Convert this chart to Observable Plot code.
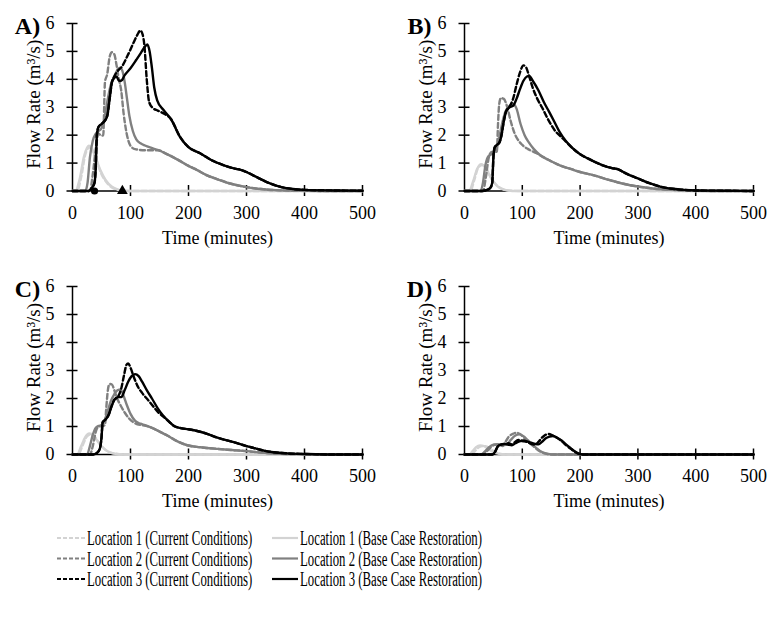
<!DOCTYPE html>
<html><head><meta charset="utf-8">
<script src="https://cdn.jsdelivr.net/npm/d3@7"></script>
<script src="https://cdn.jsdelivr.net/npm/@observablehq/plot@0.6"></script>
<style>
body{margin:0;background:#fff;}
#wrap{position:relative;width:768px;height:619px;overflow:hidden;background:#fff;font-family:"Liberation Serif","Times New Roman",serif;}
.panel{position:absolute;}
.panel text{font-family:"Liberation Serif","Times New Roman",serif;}
.leg{position:absolute;font-family:"Liberation Serif","Times New Roman",serif;font-size:20px;line-height:22px;white-space:nowrap;transform:scaleX(0.64);transform-origin:left center;color:#000;}
</style></head><body><div id="wrap"></div>
<script>
// ---- tick labels / categories ----
const xTicks = [0, 100, 200, 300, 400, 500];
const yTicks = [0, 1, 2, 3, 4, 5, 6];
const panelLabels = ["A)", "B)", "C)", "D)"];
const xTitle = "Time (minutes)";
const yTitle = "Flow Rate (m³/s)";
const seriesNames = [
  "Location 1 (Current Conditions)", "Location 1 (Base Case Restoration)",
  "Location 2 (Current Conditions)", "Location 2 (Base Case Restoration)",
  "Location 3 (Current Conditions)", "Location 3 (Base Case Restoration)"
];
// markers on panel A time axis (minutes)
const markerCircleT = [38];
const markerTriangleT = [86];

// ---- Panel A: [time (min), flow (m3/s)] ----
const A_L1_cur = [[0,0],[8,0],[15,0.5],[22,1.3],[29,1.56],[35,1.45],[42,1.05],[50,0.6],[60,0.28],[70,0.1],[85,0.02],[100,0],[500,0]];
const A_L1_base = [[0,0],[5,0],[12,0.4],[20,1.25],[28,1.62],[34,1.5],[40,1.2],[48,0.75],[57,0.4],[68,0.15],[80,0.04],[95,0],[500,0]];
const A_L2_cur = [[0,0],[30,0],[35,0.6],[40,1.5],[45,2.05],[50,1.98],[53,2.0],[56,3.9],[60,4.2],[64,4.8],[68,4.97],[72,4.9],[76,4.5],[80,4.0],[84,3.6],[88,2.8],[93,2.1],[100,1.62],[108,1.5],[125,1.46],[148,1.46],[160,1.35],[170,1.25],[185,1.08],[200,0.9],[215,0.75],[230,0.58],[250,0.42],[275,0.25],[300,0.14],[325,0.07],[350,0.03],[400,0.01],[450,0],[500,0]];
const A_L2_base = [[0,0],[22,0],[26,0.3],[30,1.2],[35,1.8],[40,2.05],[45,2.15],[50,2.25],[55,2.6],[60,3.2],[66,3.8],[72,4.1],[78,4.35],[82,4.42],[86,4.3],[90,3.9],[94,3.3],[98,2.7],[104,2.15],[110,1.85],[118,1.7],[125,1.63],[135,1.55],[148,1.46],[160,1.35],[170,1.25],[185,1.08],[200,0.9],[215,0.75],[230,0.58],[250,0.42],[275,0.25],[300,0.14],[325,0.07],[350,0.03],[400,0.01],[450,0],[500,0]];
const A_L3_cur = [[0,0],[28,0],[33,0.1],[38,0.3],[40,0.8],[42,2.0],[45,2.3],[50,2.4],[55,2.5],[60,2.7],[64,3.3],[68,3.9],[72,4.1],[78,4.3],[85,4.45],[95,4.85],[105,5.3],[112,5.6],[117,5.75],[121,5.6],[124,5.2],[128,4.0],[132,3.2],[138,2.98],[147,2.88],[157,2.78],[170,2.57],[185,1.95],[200,1.57],[220,1.35],[240,1.1],[260,0.93],[280,0.8],[290,0.76],[300,0.68],[320,0.47],[335,0.32],[360,0.14],[380,0.07],[400,0.04],[450,0.02],[500,0.01]];
const A_L3_base = [[0,0],[28,0],[33,0.1],[38,0.3],[40,0.8],[42,2.0],[45,2.3],[50,2.4],[55,2.5],[60,2.7],[64,3.3],[68,3.9],[72,4.05],[76,4.1],[80,3.95],[84,3.95],[90,4.15],[100,4.4],[110,4.7],[118,4.95],[124,5.15],[129,5.25],[133,5.0],[137,4.4],[141,3.7],[146,3.25],[157,2.9],[170,2.57],[185,1.95],[200,1.57],[220,1.35],[240,1.1],[260,0.93],[280,0.8],[290,0.76],[300,0.68],[320,0.47],[335,0.32],[360,0.14],[380,0.07],[400,0.04],[450,0.02],[500,0.01]];

// ---- Panel B ----
const B_L1_cur = [[0,0],[10,0],[17,0.4],[24,0.85],[31,0.93],[38,0.8],[45,0.5],[55,0.22],[65,0.08],[80,0.01],[95,0],[500,0]];
const B_L1_base = [[0,0],[8,0],[15,0.35],[22,0.8],[29,0.96],[36,0.85],[43,0.58],[52,0.28],[62,0.1],[75,0.02],[90,0],[500,0]];
const B_L2_cur = [[0,0],[32,0],[37,0.5],[42,1.2],[47,1.4],[52,1.38],[56,1.42],[58,2.4],[60,3.1],[63,3.33],[68,3.3],[74,3.0],[80,2.5],[86,2.1],[92,1.85],[100,1.65],[110,1.5],[125,1.35],[131,1.28],[145,1.12],[166,0.91],[185,0.78],[200,0.68],[224,0.56],[253,0.38],[275,0.26],[300,0.16],[325,0.09],[350,0.05],[400,0.01],[450,0],[500,0]];
const B_L2_base = [[0,0],[27,0],[32,0.3],[36,0.9],[40,1.2],[45,1.3],[50,1.35],[55,1.5],[60,1.9],[66,2.5],[72,2.9],[78,3.05],[84,3.12],[90,2.95],[97,2.4],[104,2.0],[111,1.75],[120,1.5],[131,1.28],[145,1.12],[166,0.91],[185,0.78],[200,0.68],[224,0.56],[253,0.38],[275,0.26],[300,0.16],[325,0.09],[350,0.05],[400,0.01],[450,0],[500,0]];
const B_L3_cur = [[0,0],[30,0],[40,0.05],[45,0.12],[48,0.3],[50,1.2],[52,1.55],[56,1.65],[60,1.72],[64,2.0],[68,2.5],[72,2.85],[78,3.02],[84,3.3],[90,3.8],[96,4.25],[102,4.5],[106,4.45],[112,4.1],[118,3.7],[126,3.3],[134,3.0],[145,2.55],[157,2.15],[165,1.98],[175,1.78],[186,1.55],[200,1.32],[215,1.15],[238,0.93],[255,0.82],[265,0.78],[280,0.62],[300,0.45],[320,0.28],[340,0.15],[360,0.08],[380,0.04],[400,0.02],[450,0.01],[500,0]];
const B_L3_base = [[0,0],[30,0],[40,0.05],[45,0.12],[48,0.3],[50,1.2],[52,1.55],[56,1.65],[60,1.72],[64,2.0],[68,2.5],[72,2.85],[78,3.0],[84,3.05],[90,3.3],[96,3.65],[102,3.95],[108,4.1],[112,4.12],[118,3.95],[128,3.6],[137,3.2],[146,2.85],[155,2.5],[165,2.1],[175,1.8],[186,1.55],[200,1.32],[215,1.15],[238,0.93],[255,0.82],[265,0.78],[280,0.62],[300,0.45],[320,0.28],[340,0.15],[360,0.08],[380,0.04],[400,0.02],[450,0.01],[500,0]];

// ---- Panel C ----
const C_L1_cur = [[0,0],[10,0],[17,0.3],[24,0.62],[31,0.72],[38,0.64],[45,0.45],[54,0.22],[64,0.08],[78,0.02],[92,0],[500,0]];
const C_L1_base = [[0,0],[8,0],[15,0.3],[22,0.62],[29,0.75],[36,0.68],[43,0.48],[52,0.25],[62,0.1],[75,0.02],[90,0],[500,0]];
const C_L2_cur = [[0,0],[30,0],[35,0.3],[40,0.8],[45,1.0],[52,1.02],[56,1.05],[58,1.6],[61,2.3],[64,2.52],[68,2.5],[72,2.3],[77,2.0],[83,1.75],[90,1.5],[97,1.3],[105,1.15],[112,1.08],[120,1.05],[135,0.97],[150,0.82],[165,0.66],[180,0.48],[198,0.33],[220,0.26],[250,0.2],[275,0.16],[300,0.12],[325,0.07],[350,0.03],[400,0.01],[450,0],[500,0]];
const C_L2_base = [[0,0],[25,0],[30,0.3],[35,0.7],[40,0.95],[45,1.02],[50,1.05],[55,1.2],[60,1.5],[66,1.9],[72,2.15],[78,2.3],[83,2.32],[88,2.1],[94,1.75],[100,1.45],[108,1.2],[117,1.1],[125,1.05],[135,0.97],[150,0.82],[165,0.66],[180,0.48],[198,0.33],[220,0.26],[250,0.2],[275,0.16],[300,0.12],[325,0.07],[350,0.03],[400,0.01],[450,0],[500,0]];
const C_L3_cur = [[0,0],[35,0],[42,0.05],[47,0.2],[50,0.6],[52,1.15],[57,1.25],[62,1.4],[67,1.7],[72,1.95],[78,2.05],[84,2.35],[89,2.85],[93,3.2],[96,3.25],[100,3.1],[106,2.75],[112,2.45],[120,2.2],[131,1.93],[140,1.7],[148,1.5],[158,1.33],[165,1.2],[175,1.02],[185,0.95],[200,0.9],[215,0.84],[232,0.74],[250,0.6],[278,0.44],[300,0.3],[313,0.23],[330,0.14],[347,0.08],[370,0.04],[400,0.02],[450,0],[500,0]];
const C_L3_base = [[0,0],[35,0],[42,0.05],[47,0.2],[50,0.6],[52,1.15],[57,1.25],[62,1.4],[67,1.7],[72,1.95],[78,2.05],[84,2.05],[90,2.3],[96,2.6],[102,2.8],[108,2.87],[114,2.8],[120,2.6],[128,2.3],[137,2.0],[147,1.65],[155,1.42],[165,1.2],[175,1.02],[185,0.95],[200,0.9],[215,0.84],[232,0.74],[250,0.6],[278,0.44],[300,0.3],[313,0.23],[330,0.14],[347,0.08],[370,0.04],[400,0.02],[450,0],[500,0]];

// ---- Panel D ----
const D_L1_cur = [[0,0],[12,0],[18,0.12],[25,0.26],[32,0.3],[39,0.28],[46,0.18],[55,0.07],[65,0.01],[75,0],[500,0]];
const D_L1_base = [[0,0],[8,0],[14,0.12],[20,0.26],[27,0.32],[34,0.3],[41,0.2],[50,0.08],[60,0.02],[70,0],[500,0]];
const D_L2_cur = [[0,0],[32,0],[38,0.1],[45,0.25],[52,0.35],[60,0.36],[66,0.3],[70,0.42],[76,0.62],[84,0.74],[90,0.78],[96,0.73],[104,0.58],[112,0.42],[120,0.28],[130,0.12],[140,0.03],[150,0],[500,0]];
const D_L2_base = [[0,0],[28,0],[35,0.1],[42,0.25],[50,0.35],[58,0.37],[66,0.33],[73,0.35],[80,0.52],[88,0.68],[95,0.72],[102,0.65],[110,0.5],[118,0.35],[126,0.2],[135,0.08],[145,0.02],[155,0],[500,0]];
const D_L3_cur = [[0,0],[48,0],[53,0.1],[58,0.3],[64,0.36],[70,0.38],[76,0.4],[82,0.36],[86,0.42],[93,0.52],[100,0.48],[108,0.45],[115,0.38],[122,0.35],[128,0.45],[134,0.6],[140,0.7],[146,0.73],[152,0.68],[160,0.6],[168,0.48],[176,0.33],[184,0.2],[192,0.08],[198,0.02],[205,0],[500,0]];
const D_L3_base = [[0,0],[48,0],[53,0.1],[58,0.3],[64,0.36],[70,0.38],[76,0.35],[82,0.33],[88,0.4],[95,0.47],[102,0.5],[108,0.47],[115,0.42],[122,0.38],[128,0.36],[134,0.45],[140,0.57],[147,0.64],[153,0.66],[160,0.6],[168,0.5],[176,0.35],[184,0.22],[192,0.1],[198,0.03],[205,0],[500,0]];

const panelSeries = [
  [A_L1_cur, A_L1_base, A_L2_cur, A_L2_base, A_L3_cur, A_L3_base],
  [B_L1_cur, B_L1_base, B_L2_cur, B_L2_base, B_L3_cur, B_L3_base],
  [C_L1_cur, C_L1_base, C_L2_cur, C_L2_base, C_L3_cur, C_L3_base],
  [D_L1_cur, D_L1_base, D_L2_cur, D_L2_base, D_L3_cur, D_L3_base]
];

// ---- styles ----
const FONT = "Liberation Serif";
const seriesColors = ["#d3d3d3", "#d3d3d3", "#808080", "#808080", "#000000", "#000000"];
const seriesDashed = [true, false, true, false, true, false];
const drawOrder = [1, 0, 3, 2, 5, 4];
const layout = [
  {left: 0, top: 0, width: 384, mr: 22, mb: 59.5},
  {left: 392, top: 0, width: 376, mr: 15, mb: 59.5},
  {left: 0, top: 263, width: 384, mr: 22, mb: 59},
  {left: 392, top: 263, width: 376, mr: 15, mb: 59}
];

const wrap = document.getElementById("wrap");

panelSeries.forEach((series, p) => {
  const L = layout[p];
  const marks = [
    Plot.ruleY([0], {stroke: "#000", strokeWidth: 1.5}),
    Plot.ruleX([0], {stroke: "#000", strokeWidth: 1.5}),
    Plot.ruleX(xTicks.slice(1), {x: d => d, y1: 0, y2: 0, insetTop: -5.5, insetBottom: -5.5, stroke: "#000", strokeWidth: 1.5}),
    Plot.ruleY(yTicks, {y: d => d, x1: 0, x2: 0, insetLeft: -5.5, insetRight: -5.5, stroke: "#000", strokeWidth: 1.5}),
    Plot.axisX(xTicks, {tickSize: 0, tickPadding: 15, fontSize: 18, fontFamily: FONT, label: null}),
    Plot.axisY(yTicks, {tickSize: 0, tickPadding: 18, fontSize: 18, fontFamily: FONT, label: null}),
    Plot.text([xTitle], {frameAnchor: "bottom", textAnchor: "middle", lineAnchor: "middle", dy: 47, fontSize: 18, fontFamily: FONT, fill: "#000"}),
    Plot.text([yTitle], {frameAnchor: "left", textAnchor: "middle", lineAnchor: "middle", dx: -39, dy: -3, rotate: -90, fontSize: 19, fontFamily: FONT, fill: "#000"}),
    Plot.text([panelLabels[p]], {frameAnchor: "top-left", textAnchor: "middle", lineAnchor: "middle", dx: -45, dy: 2.5, fontSize: 24, fontWeight: "bold", fontFamily: FONT, fill: "#000"})
  ];
  drawOrder.forEach(i => {
    marks.push(Plot.line(series[i], {
      x: d => d[0], y: d => d[1],
      stroke: seriesColors[i], strokeWidth: 2.4,
      strokeDasharray: seriesDashed[i] ? "5,3" : null,
      curve: "monotone-x"
    }));
  });
  if (p === 0) {
    marks.push(Plot.dot(markerCircleT, {x: d => d, y: 0, r: 3.6, fill: "#000", symbol: "circle"}));
    marks.push(Plot.dot(markerTriangleT, {x: d => d, y: 0, r: 4, fill: "#000", symbol: "triangle"}));
  }
  const svg = Plot.plot({
    width: L.width, height: 250,
    marginLeft: 72, marginRight: L.mr, marginTop: 23, marginBottom: L.mb,
    style: {fontFamily: FONT, color: "#000", background: "transparent", overflow: "visible"},
    x: {domain: [0, 500], axis: null},
    y: {domain: [0, 6], axis: null},
    marks
  });
  svg.classList.add("panel");
  svg.style.left = L.left + "px";
  svg.style.top = L.top + "px";
  wrap.appendChild(svg);
});

// ---- legend ----
const legSvgNS = "http://www.w3.org/2000/svg";
const legSvg = document.createElementNS(legSvgNS, "svg");
legSvg.setAttribute("width", 768);
legSvg.setAttribute("height", 619);
legSvg.style.position = "absolute";
legSvg.style.left = "0px";
legSvg.style.top = "0px";
wrap.appendChild(legSvg);
const legRowsY = [538, 558.5, 579];
const legColX = [[57, 85, 87], [272, 298, 300]];
seriesNames.forEach((name, i) => {
  const col = i % 2, row = Math.floor(i / 2);
  const cy = legRowsY[row];
  const [x1, x2, tx] = legColX[col];
  const ln = document.createElementNS(legSvgNS, "line");
  ln.setAttribute("x1", x1); ln.setAttribute("x2", x2);
  ln.setAttribute("y1", cy); ln.setAttribute("y2", cy);
  ln.setAttribute("stroke", seriesColors[i]);
  ln.setAttribute("stroke-width", 2.2);
  if (seriesDashed[i]) ln.setAttribute("stroke-dasharray", "4,2");
  legSvg.appendChild(ln);
  const sp = document.createElement("div");
  sp.className = "leg";
  sp.textContent = name;
  sp.style.left = tx + "px";
  sp.style.top = (cy - 11) + "px";
  wrap.appendChild(sp);
});
</script>
</body></html>
